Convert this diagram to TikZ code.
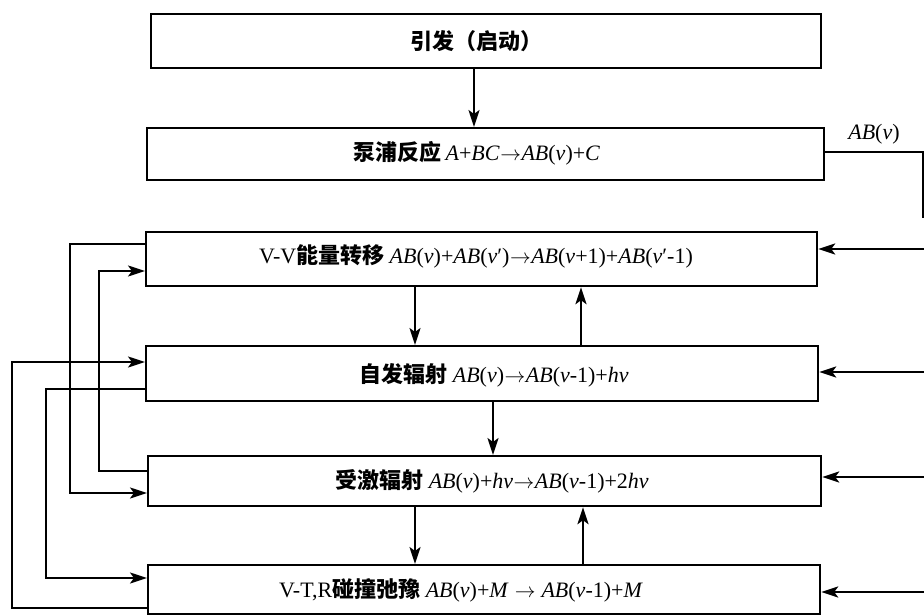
\documentclass[tikz,border=0pt]{standalone}
\usepackage{fontspec}
\setmainfont{Liberation Serif}
\newfontfamily\cjk{Noto Sans CJK SC}
\usetikzlibrary{arrows.meta}
\newcommand\ita[1]{\textit{#1}}
\newcommand\ABv[1]{\textit{AB}(\textit{v}#1)}
\newcommand\rar{\kern0.5pt$\rightarrow$\kern0.5pt}
\begin{document}
\begin{tikzpicture}[x=1pt,y=-1pt,
  box/.style={draw, line width=2.2pt, anchor=north west, inner sep=0pt},
  lbl/.style={font=\fontsize{22}{24}\selectfont, inner sep=0pt},
  link/.style={line width=2.2pt},
  arr/.style={link, -{Stealth[length=17pt,width=11pt,inset=4pt]}}]
\useasboundingbox (0,0) rectangle (924,615);

% boxes
\node[box, minimum width=670pt, minimum height=54pt] (b1) at (150,13) {};
\node[box, minimum width=677pt, minimum height=52pt] (b2) at (146,127) {};
\node[box, minimum width=671pt, minimum height=54pt] (b3) at (145,231) {};
\node[box, minimum width=672pt, minimum height=55pt] (b4) at (145,345) {};
\node[box, minimum width=673pt, minimum height=50pt] (b5) at (147,455) {};
\node[box, minimum width=672pt, minimum height=49pt] (b6) at (147,564) {};

% texts
\node[lbl] (t1) at (476,41) {{\cjk\bfseries 引发（启动）}};
\node[lbl] (t2) at (477,153) {{\cjk\bfseries 泵浦反应}\,\ita{A}+\ita{BC}\rar\ABv{}+\ita{C}};
\node[lbl] (t3) at (476,256) {V-V{\cjk\bfseries 能量转移} \ABv{}+\ABv{′}\rar\ABv{+1}+\ABv{′-1}};
\node[lbl] (t4) at (494,375) {{\cjk\bfseries 自发辐射} \ABv{}\rar\ABv{-1}+\ita{hv}};
\node[lbl] (t5) at (492,481) {{\cjk\bfseries 受激辐射} \ABv{}+\ita{hv}\rar\ABv{-1}+2\ita{hv}};
\node[lbl] (t6) at (461,590) {V-T,R{\cjk\bfseries 碰撞弛豫} \ABv{}+\ita{M} \rar\ \ABv{-1}+\ita{M}};
\node[lbl] (abv) at (874,134) {\ABv{}};

% vertical arrows
\draw[arr] (b1.south -| 474,0) -- (b2.north -| 474,0);
\draw[arr] (b3.south -| 415,0) -- (b4.north -| 415,0);
\draw[arr] (b4.north -| 581,0) -- (b3.south -| 581,0);
\draw[arr] (b4.south -| 493,0) -- (b5.north -| 493,0);
\draw[arr] (b5.south -| 415,0) -- (b6.north -| 415,0);
\draw[arr] (b6.north -| 583,0) -- (b5.south -| 583,0);

% output of pump reaction to the right
\coordinate (rtop) at (923,152);
\coordinate (rbot) at (923,218);
\draw[line width=1.4pt] (b2.east |- rtop) -- (rtop) -- (rbot);

% inputs from the right
\coordinate (r3) at (925,249);
\coordinate (r4) at (925,372);
\coordinate (r5) at (925,477);
\coordinate (r6) at (925,592);
\draw[arr] (r3) -- (b3.east |- r3);
\draw[arr] (r4) -- (b4.east |- r4);
\draw[arr] (r5) -- (b5.east |- r5);
\draw[arr] (r6) -- (b6.east |- r6);

% loops on the left
\draw[arr] (b3.west |- 0,244) -| (70,493) -- (b5.west |- 0,493);
\draw[arr] (b5.west |- 0,471) -| (99,271) -- (b3.west |- 0,271);
\draw[arr] (b6.west |- 0,608) -| (12,362) -- (b4.west |- 0,362);
\draw[arr] (b4.west |- 0,389) -| (46,578) -- (b6.west |- 0,578);
\end{tikzpicture}
\end{document}
